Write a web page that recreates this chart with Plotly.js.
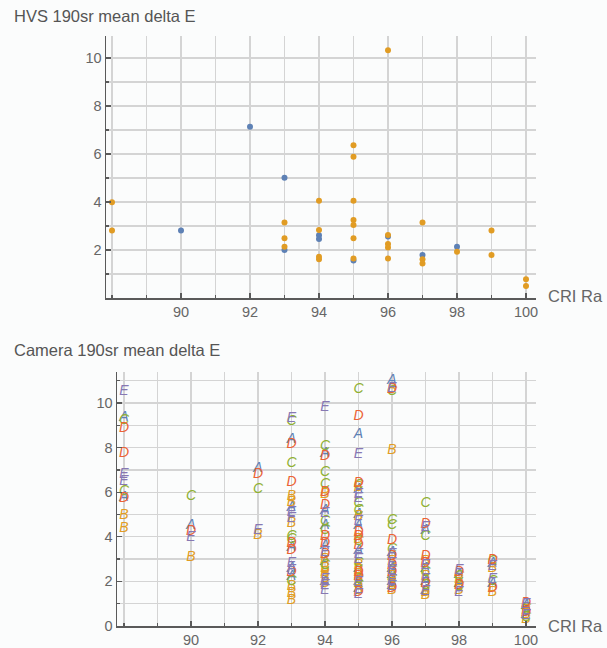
<!DOCTYPE html>
<html>
<head>
<meta charset="utf-8">
<script src="https://cdn.plot.ly/plotly-3.0.1.min.js"></script>
<style>html,body{margin:0;padding:0;background:#fbfcfc;}#chart{width:607px;height:648px;}</style>
</head>
<body>
<div id="chart"></div>
<script>
// ---------- Data: HVS 190sr mean delta E ----------
const hvsBlueX = [90, 92, 93, 93, 94, 94, 95, 96, 97, 98];
const hvsBlueY = [2.81, 7.14, 5.01, 2.0, 2.62, 2.46, 1.56, 2.56, 1.79, 2.14];
const hvsOrangeX = [88, 88, 93, 93, 93, 94, 94, 94, 94, 95, 95, 95, 95, 95, 95, 95, 96, 96, 96, 96, 96, 97, 97, 97, 98, 99, 99, 100, 100];
const hvsOrangeY = [3.99, 2.81, 3.15, 2.49, 2.14, 4.05, 2.83, 1.72, 1.62, 6.37, 5.89, 4.05, 3.25, 3.04, 2.49, 1.65, 10.33, 2.63, 2.25, 2.1, 1.65, 3.15, 1.61, 1.44, 1.93, 2.81, 1.79, 0.78, 0.5];

// ---------- Data: Camera 190sr mean delta E (cameras A..E) ----------
const camAX = [88,88, 90, 92, 93,93,93,93,93, 94,94,94,94,94,94, 95,95,95,95,95,95,95,95, 96,96,96,96,96,96, 97,97,97,97, 98,98, 99,99, 100,100];
const camAY = [9.35,5.75, 4.5, 7.05, 8.35,5.3,3.5,2.6,2.2, 7.75,5.2,4.5,3.6,2.9,2.0, 8.6,6.1,5.0,4.5,3.4,2.6,2.0,1.7, 11.0,3.3,2.6,2.3,2.0,1.8, 4.3,2.6,2.0,1.6, 2.3,1.9, 2.8,1.9, 0.9,0.5];
const camBX = [88,88, 90, 92, 93,93,93,93,93,93, 94,94,94,94,94,94, 95,95,95,95,95,95,95,95, 96,96,96,96,96,96, 97,97,97,97, 98,98, 99,99, 100,100];
const camBY = [4.95,4.35, 3.05, 4.05, 5.8,5.55,4.6,1.75,1.45,1.15, 5.9,3.0,2.6,2.4,2.3,1.9, 6.2,4.9,3.9,2.7,2.5,2.3,1.9,1.6, 10.6,7.85,2.9,2.2,1.9,1.6, 2.9,2.2,1.5,1.35, 2.1,1.6, 2.6,1.5, 0.7,0.3];
const camCX = [88,88, 90, 92, 93,93,93,93,93, 94,94,94,94,94,94, 95,95,95,95,95,95,95,95, 96,96,96,96,96,96, 97,97,97,97, 98,98, 99,99, 100,100];
const camCY = [9.2,6.05, 5.8, 6.1, 9.15,7.3,4.0,3.9,2.0, 8.05,6.9,6.35,4.7,4.3,2.7, 10.6,6.3,5.5,5.2,3.8,2.8,2.1,1.8, 10.5,4.75,4.5,3.45,2.5,2.1, 5.5,4.0,2.4,1.8, 2.2,1.75, 2.9,2.0, 0.8,0.4];
const camDX = [88,88,88, 90, 92, 93,93,93,93,93, 94,94,94,94,94,94, 95,95,95,95,95,95,95,95, 96,96,96,96,96,96, 97,97,97,97, 98,98, 99,99, 100,100];
const camDY = [8.85,7.75,5.7, 4.25, 6.8, 8.15,6.45,3.7,3.4,2.4, 7.6,6.0,5.4,4.0,3.7,3.2, 9.4,6.4,4.2,4.0,3.6,2.4,2.2,1.5, 10.6,3.85,3.1,2.7,2.4,1.7, 4.55,3.1,2.8,1.9, 2.4,1.8, 2.95,1.7, 1.0,0.6];
const camEX = [88,88,88, 90, 92, 93,93,93,93,93, 94,94,94,94,94,94, 95,95,95,95,95,95,95,95, 96,96,96,96,96,96, 97,97,97,97, 98,98, 99,99, 100,100];
const camEY = [10.5,6.8,6.5, 3.95, 4.3, 9.3,5.1,4.8,2.8,2.5, 9.8,5.05,3.3,2.1,1.8,1.6, 7.7,5.9,5.7,4.7,3.2,3.0,1.95,1.4, 10.65,3.2,2.8,2.5,2.05,1.75, 4.4,2.7,2.1,1.55, 2.5,1.5, 2.65,2.1, 0.95,0.45];

// ---------- Ticks ----------
const xTickVals = [90, 92, 94, 96, 98, 100];
const xGridMinor = [88, 89, 91, 93, 95, 97, 99];
const yTickValsTop = [2, 4, 6, 8, 10];
const yGridMinorTop = [1, 3, 5, 7, 9];
const yTickValsBot = [0, 2, 4, 6, 8, 10];
const yGridMinorBot = [1, 3, 5, 7, 9, 11];

const colors = {A: '#5E81B5', B: '#E19C24', C: '#8FB032', D: '#EB6235', E: '#8778B3'};
const FONT = 'Liberation Sans, Arial, Helvetica, sans-serif';
const GRID = '#d4d4d4';
const AXIS = '#5a5a5a';

function letterTrace(xs, ys, letter) {
  return {
    x: xs, y: ys, xaxis: 'x2', yaxis: 'y2',
    mode: 'text', type: 'scatter',
    text: xs.map(() => letter),
    textposition: 'middle center',
    textfont: {family: FONT, size: 14, color: colors[letter], style: 'italic'},
    cliponaxis: false, hoverinfo: 'skip', showlegend: false
  };
}

const data = [
  {x: hvsBlueX, y: hvsBlueY, mode: 'markers', type: 'scatter', xaxis: 'x', yaxis: 'y',
   marker: {color: colors.A, size: 6}, cliponaxis: false, hoverinfo: 'skip', showlegend: false},
  {x: hvsOrangeX, y: hvsOrangeY, mode: 'markers', type: 'scatter', xaxis: 'x', yaxis: 'y',
   marker: {color: colors.B, size: 6}, cliponaxis: false, hoverinfo: 'skip', showlegend: false},
  letterTrace(camAX, camAY, 'A'),
  letterTrace(camBX, camBY, 'B'),
  letterTrace(camCX, camCY, 'C'),
  letterTrace(camDX, camDY, 'D'),
  letterTrace(camEX, camEY, 'E')
];

function xAxis(domain, range, anchor) {
  return {
    domain: domain, range: range, anchor: anchor,
    tickmode: 'array', tickvals: xTickVals,
    ticks: 'inside', ticklen: 5, tickwidth: 1.2, tickcolor: AXIS,
    showgrid: true, gridcolor: GRID, gridwidth: 1.3,
    minor: {tickmode: 'array', tickvals: xGridMinor, showgrid: true, gridcolor: GRID, gridwidth: 1.3,
            ticks: 'inside', ticklen: 3, tickcolor: AXIS},
    showline: true, linecolor: AXIS, linewidth: 1.5, zeroline: false,
    tickfont: {family: FONT, size: 14.5, color: '#666'},
    fixedrange: true
  };
}
function yAxis(domain, range, anchor, tv, minorv) {
  return {
    domain: domain, range: range, anchor: anchor,
    tickmode: 'array', tickvals: tv,
    ticks: 'inside', ticklen: 5, tickwidth: 1.2, tickcolor: AXIS,
    showgrid: true, gridcolor: GRID, gridwidth: 1.3,
    minor: {tickmode: 'array', tickvals: minorv, showgrid: true, gridcolor: GRID, gridwidth: 1.3,
            ticks: 'inside', ticklen: 3, tickcolor: AXIS},
    showline: true, linecolor: AXIS, linewidth: 1.5, zeroline: false,
    tickfont: {family: FONT, size: 14.5, color: '#666'},
    fixedrange: true
  };
}

const layout = {
  width: 607, height: 648,
  margin: {l: 0, r: 0, t: 0, b: 0},
  paper_bgcolor: '#fbfcfc', plot_bgcolor: '#fbfcfc',
  showlegend: false,
  xaxis: xAxis([106/607, 536/607], [87.826, 100.29], 'y'),
  yaxis: yAxis([1 - 298/648, 1 - 36/648], [0, 10.92], 'x', yTickValsTop, yGridMinorTop),
  xaxis2: xAxis([117/607, 536/607], [87.79, 100.3], 'y2'),
  yaxis2: yAxis([1 - 626/648, 1 - 372/648], [0, 11.39], 'x2', yTickValsBot, yGridMinorBot),
  annotations: [
    {text: 'HVS 190sr mean delta E', xref: 'paper', yref: 'paper', x: 12/607, y: 1 - 16/648,
     xanchor: 'left', yanchor: 'middle', showarrow: false, font: {family: FONT, size: 16.5, color: '#555'}},
    {text: 'Camera 190sr mean delta E', xref: 'paper', yref: 'paper', x: 12/607, y: 1 - 350/648,
     xanchor: 'left', yanchor: 'middle', showarrow: false, font: {family: FONT, size: 16.5, color: '#555'}},
    {text: 'CRI Ra', xref: 'paper', yref: 'paper', x: 546/607, y: 1 - 296/648,
     xanchor: 'left', yanchor: 'middle', showarrow: false, font: {family: FONT, size: 16.5, color: '#666'}},
    {text: 'CRI Ra', xref: 'paper', yref: 'paper', x: 546/607, y: 1 - 626/648,
     xanchor: 'left', yanchor: 'middle', showarrow: false, font: {family: FONT, size: 16.5, color: '#666'}}
  ]
};

Plotly.newPlot('chart', data, layout, {displayModeBar: false, staticPlot: true});
</script>
</body>
</html>
